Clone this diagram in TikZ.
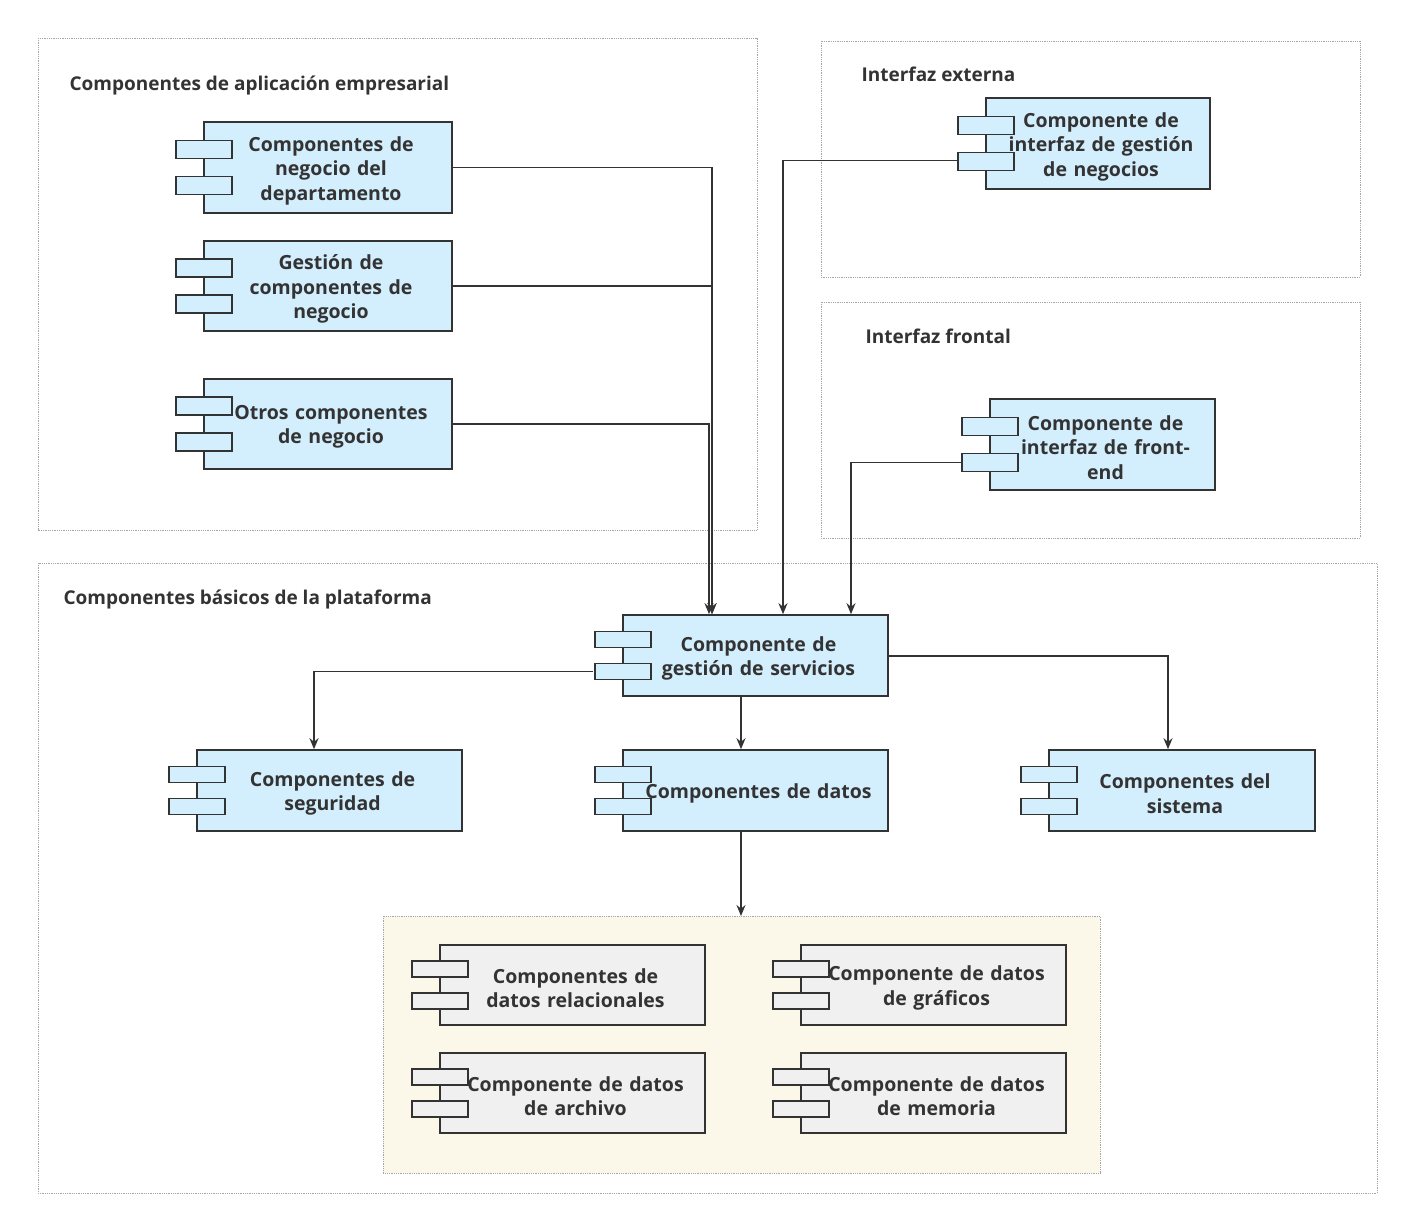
\documentclass[tikz,border=0pt]{standalone}
\usepackage{fontspec}
\setmainfont{Open Sans}
\usetikzlibrary{arrows.meta,calc}
\definecolor{cb}{HTML}{D3EEFC}
\definecolor{cg}{HTML}{F0F0F0}
\definecolor{cy}{HTML}{FBF7E9}
\definecolor{ln}{HTML}{333333}
\tikzset{
 box/.style={draw=ln,line width=1.6pt,inner sep=0pt,align=center,font=\fontsize{19.5}{24.5}\selectfont\bfseries,text=ln},
 tab/.style={draw=ln,line width=1.3pt},
 cont/.style={draw=gray!70,densely dotted,line width=0.8pt},
 title/.style={anchor=west,font=\fontsize{19}{22}\selectfont\bfseries,text=ln},
 con/.style={draw=ln,line width=1.6pt,-{Stealth[length=11pt,width=9pt]}}
}
\newcommand{\mycomp}[7]{%
 \node[box,fill=#6,minimum width={#4-#2},minimum height={#5-#3},text width={#4-#2-30}] (#1) at ({(#2+#4)/2},{(#3+#5)/2}) {};
 \draw[tab,fill=#6] ({#2-28},{#3+0.2*(#5-#3)}) rectangle ({#2+28},{#3+0.4*(#5-#3)});
 \draw[tab,fill=#6] ({#2-28},{#3+0.6*(#5-#3)}) rectangle ({#2+28},{#3+0.8*(#5-#3)});
 \node[box,draw=none,text width={#4-#2-20}] at ({(#2+#4)/2+3},{(#3+#5)/2+3}) {#7};
}
\begin{document}
\begin{tikzpicture}[x=1pt,y=-1pt]
\useasboundingbox[fill=white] (0,0) rectangle (1414,1230);
\draw[cont] (38,38) rectangle (757,530);
\draw[cont] (821,41) rectangle (1360,277);
\draw[cont] (821,302) rectangle (1360,538);
\draw[cont] (38,563) rectangle (1377,1193);
\draw[cont,fill=cy] (383,916) rectangle (1100,1173);
\node[title] (t1) at (66,86) {Componentes de aplicación empresarial};
\node[title] (t2) at (858,74) {Interfaz externa};
\node[title] (t3) at (862,336) {Interfaz frontal};
\node[title] (t4) at (60,600) {Componentes básicos de la plataforma};
\mycomp{A1}{204}{122}{452}{213}{cb}{Componentes de\\negocio del\\departamento}
\mycomp{A2}{204}{241}{452}{331}{cb}{Gestión de\\componentes de\\negocio}
\mycomp{A3}{204}{379}{452}{469}{cb}{Otros componentes\\de negocio}
\mycomp{E1}{986}{98}{1210}{189}{cb}{Componente de\\interfaz de gestión\\de negocios}
\mycomp{F1}{990}{399}{1215}{490}{cb}{Componente de\\interfaz de front-\\end}
\mycomp{S}{623}{615}{888}{696}{cb}{Componente de\\gestión de servicios}
\mycomp{Sec}{197}{750}{462}{831}{cb}{Componentes de\\seguridad}
\mycomp{D}{623}{750}{888}{831}{cb}{Componentes de datos}
\mycomp{Sys}{1049}{750}{1315}{831}{cb}{Componentes del\\sistema}
\mycomp{R1}{440}{945}{705}{1025}{cg}{Componentes de\\datos relacionales}
\mycomp{R2}{801}{945}{1066}{1025}{cg}{Componente de datos\\de gráficos}
\mycomp{R3}{440}{1053}{705}{1133}{cg}{Componente de datos\\de archivo}
\mycomp{R4}{801}{1053}{1066}{1133}{cg}{Componente de datos\\de memoria}
\coordinate (Y) at (741,916);
\draw[con] (A1.east) -| ([xshift=-43.5]S.north);
\draw[con] (A2.east) -| ([xshift=-43.5]S.north);
\draw[con] (A3.east) -| ([xshift=-46.5]S.north);
\draw[con] ([xshift=-28,yshift=-17]E1.west) -| ([xshift=27.5]S.north);
\draw[con] ([xshift=-28,yshift=-18]F1.west) -| ([xshift=95.5]S.north);
\draw[con] ([xshift=-29,yshift=-16]S.west) -| ([xshift=-15.5]Sec.north);
\draw[con] ([yshift=-0.5]S.east) -| ([xshift=-14]Sys.north);
\draw[con] ([xshift=-14.5]S.south) -- ([xshift=-14.5]D.north);
\draw[con] ([xshift=-14.5]D.south) -- (Y);
\end{tikzpicture}
\end{document}
